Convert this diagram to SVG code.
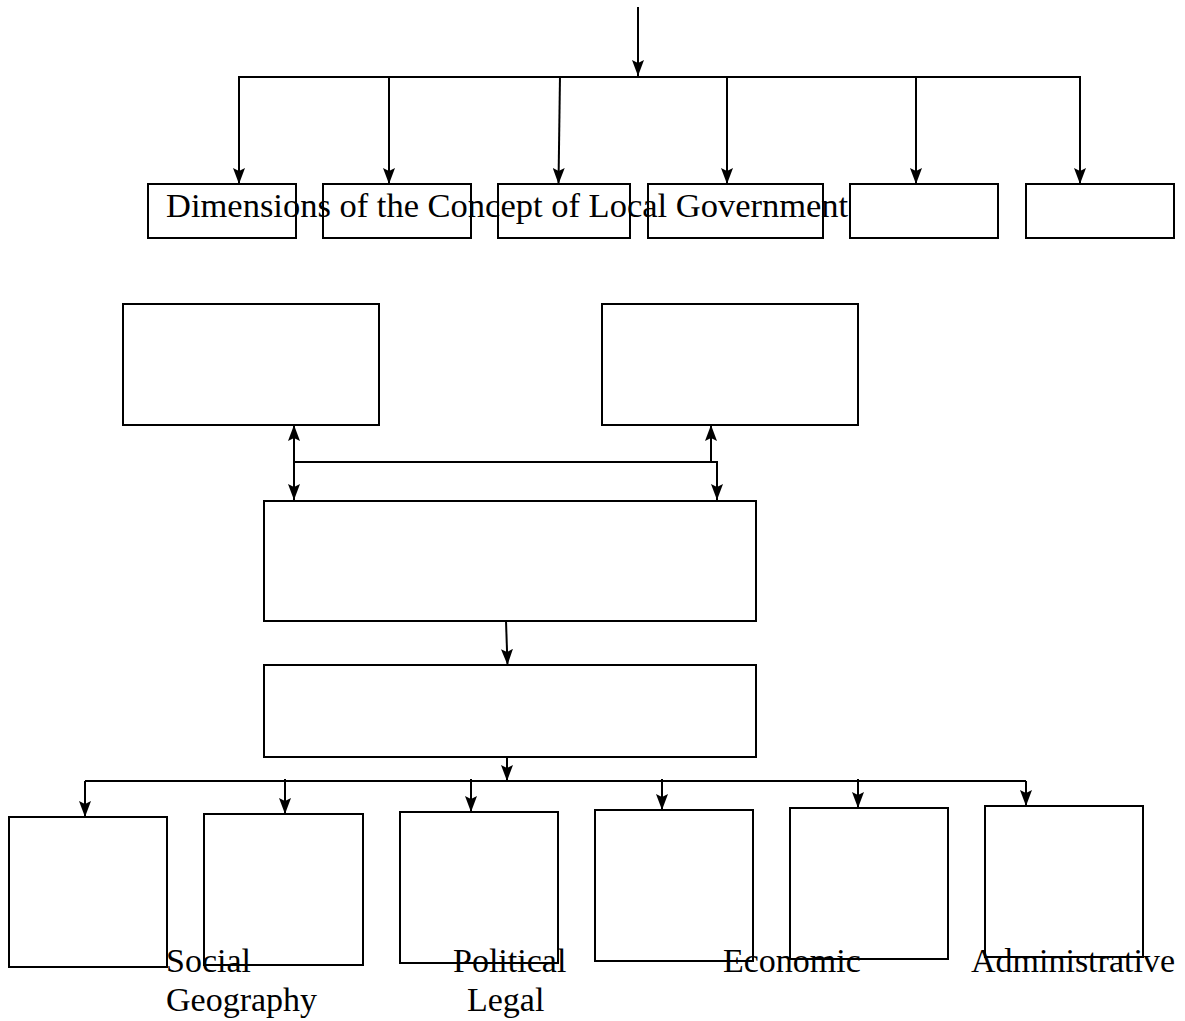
<svg xmlns="http://www.w3.org/2000/svg" width="1185" height="1021" viewBox="0 0 1185 1021">
<style>
.box{fill:none;stroke:#000;stroke-width:2}
.ln{fill:none;stroke:#000;stroke-width:2}
.ar{marker-end:url(#ah)}
.txt{font-family:"Liberation Serif","Times New Roman",serif;font-size:34px;fill:#000}
.title{font-size:34.5px}
</style>
<defs>
<marker id="ah" viewBox="0 0 16 12" refX="16" refY="6" markerWidth="16" markerHeight="12" markerUnits="userSpaceOnUse" orient="auto">
<path d="M0,0 L16,6 L0,12 L3,6 z" fill="#000"/>
</marker>
</defs>
<rect width="1185" height="1021" fill="#fff"/>
<g id="connectors">
<line class="ln ar" x1="638" y1="7" x2="638" y2="76"/>
<polyline class="ln" points="239,77 1080,77"/>
<line class="ln ar" x1="239" y1="76" x2="239" y2="184"/>
<line class="ln ar" x1="389" y1="76" x2="389" y2="184"/>
<line class="ln ar" x1="560" y1="76" x2="558.5" y2="184"/>
<line class="ln ar" x1="727" y1="76" x2="727" y2="184"/>
<line class="ln ar" x1="916" y1="76" x2="916" y2="184"/>
<line class="ln ar" x1="1080" y1="76" x2="1080" y2="184"/>
<line class="ln ar" x1="294" y1="462" x2="294" y2="425"/>
<line class="ln ar" x1="294" y1="462" x2="294" y2="500"/>
<line class="ln" x1="294" y1="462" x2="718" y2="462"/>
<line class="ln ar" x1="711" y1="462" x2="711" y2="425"/>
<line class="ln ar" x1="717" y1="461" x2="717" y2="500"/>
<line class="ln ar" x1="506" y1="621" x2="507.5" y2="665"/>
<line class="ln ar" x1="507" y1="757" x2="507" y2="781"/>
<line class="ln" x1="85" y1="781" x2="1026" y2="781"/>
<line class="ln ar" x1="85" y1="781" x2="85" y2="817"/>
<line class="ln ar" x1="285" y1="779" x2="285" y2="814"/>
<line class="ln ar" x1="471" y1="779" x2="471" y2="812"/>
<line class="ln ar" x1="662" y1="779" x2="662" y2="810"/>
<line class="ln ar" x1="858" y1="779" x2="858" y2="808"/>
<line class="ln ar" x1="1026" y1="781" x2="1026" y2="806"/>
</g>
<g id="top1"><rect class="box" x="148" y="184" width="148" height="54"/></g>
<g id="top2"><rect class="box" x="323" y="184" width="148" height="54"/></g>
<g id="top3"><rect class="box" x="498" y="184" width="132" height="54"/></g>
<g id="top4"><rect class="box" x="648" y="184" width="175" height="54"/></g>
<g id="top5"><rect class="box" x="850" y="184" width="148" height="54"/></g>
<g id="top6"><rect class="box" x="1026" y="184" width="148" height="54"/></g>
<g id="title"><text class="txt title" x="166" y="217">Dimensions of the Concept of Local Government</text></g>
<g id="boxA"><rect class="box" x="123" y="304" width="256" height="121"/></g>
<g id="boxB"><rect class="box" x="602" y="304" width="256" height="121"/></g>
<g id="boxC"><rect class="box" x="264" y="501" width="492" height="120"/></g>
<g id="boxE"><rect class="box" x="264" y="665" width="492" height="92"/></g>
<g id="bot1"><rect class="box" x="9" y="817" width="158" height="150"/></g>
<g id="bot2"><rect class="box" x="204" y="814" width="159" height="151"/></g>
<g id="bot3"><rect class="box" x="400" y="812" width="158" height="151"/></g>
<g id="bot4"><rect class="box" x="595" y="810" width="158" height="151"/></g>
<g id="bot5"><rect class="box" x="790" y="808" width="158" height="151"/></g>
<g id="bot6"><rect class="box" x="985" y="806" width="158" height="151"/></g>
<g id="labels">
<text class="txt" x="166" y="972">Social</text>
<text class="txt" x="166" y="1011">Geography</text>
<text class="txt" x="453" y="972">Political</text>
<text class="txt" x="467" y="1011">Legal</text>
<text class="txt" x="723" y="972">Economic</text>
<text class="txt" x="971" y="972">Administrative</text>
</g>
</svg>
